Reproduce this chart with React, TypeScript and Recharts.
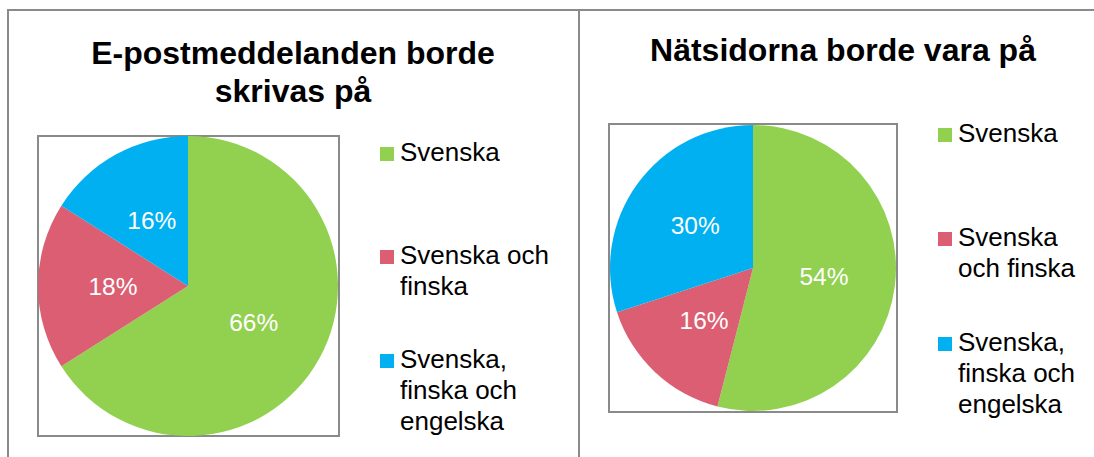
import React from 'react';
import { PieChart, Pie, Cell } from 'recharts';

const categories = ['Svenska', 'Svenska och finska', 'Svenska, finska och engelska'];
const colors = ['#92D050', '#DB5E72', '#00B0F0'];
const emailValues = [66, 18, 16];
const webValues = [54, 16, 30];
const titles = ['E-postmeddelanden borde skrivas på', 'Nätsidorna borde vara på'];

const FONT = '"Liberation Sans", Arial, Helvetica, sans-serif';
const RAD = Math.PI / 180;
const GRAY = '#8a8a8a';

const renderLabel = (p: any) => {
  const r = p.outerRadius * 0.5;
  const x = p.cx + r * Math.cos(-p.midAngle * RAD);
  const y = p.cy + r * Math.sin(-p.midAngle * RAD);
  return (
    <text
      x={x}
      y={y}
      fill="#ffffff"
      fontSize={24.5}
      fontFamily={FONT}
      textAnchor="middle"
      dominantBaseline="central"
    >
      {`${p.value}%`}
    </text>
  );
};

const panels = [
  {
    title: titles[0],
    values: emailValues,
    cx: 188, cy: 286, r: 150,
    box: { l: 37, t: 135, w: 303, h: 302 },
    titleCx: 293, titleTop: 35,
    legX: 380, legTextW: 170, legStart: 92.5, legSpacing: 119,
  },
  {
    title: titles[1],
    values: webValues,
    cx: 753, cy: 268, r: 143,
    box: { l: 608, t: 123, w: 290, h: 290 },
    titleCx: 843, titleTop: 32,
    legX: 938, legTextW: 134, legStart: 73, legSpacing: 120,
  },
];

export default function App() {
  return (
    <div
      style={{
        position: 'absolute',
        left: 0,
        top: 0,
        width: 1094,
        height: 457,
        background: '#ffffff',
        overflow: 'hidden',
        fontFamily: FONT,
      }}
    >
      {/* outer frame */}
      <div style={{ position: 'absolute', left: 7, top: 9, width: 1087, height: 2, background: GRAY }} />
      <div style={{ position: 'absolute', left: 7, top: 9, width: 2, height: 448, background: GRAY }} />
      <div style={{ position: 'absolute', left: 578, top: 9, width: 2, height: 448, background: GRAY }} />

      {/* plot boxes */}
      {panels.map((p, i) => (
        <div
          key={'box' + i}
          style={{
            position: 'absolute',
            left: p.box.l,
            top: p.box.t,
            width: p.box.w,
            height: p.box.h,
            border: `2px solid ${GRAY}`,
            boxSizing: 'border-box',
          }}
        />
      ))}

      <div style={{ position: 'absolute', left: 0, top: 0 }}>
        <PieChart width={1094} height={457} margin={{ top: 0, right: 0, bottom: 0, left: 0 }}>
          {panels.map((p, i) => (
            <Pie
              key={'pie' + i}
              data={categories.map((c, k) => ({ name: c, value: p.values[k] }))}
              dataKey="value"
              nameKey="name"
              cx={p.cx}
              cy={p.cy}
              outerRadius={p.r}
              startAngle={90}
              endAngle={-270}
              stroke="none"
              label={renderLabel}
              labelLine={false}
              isAnimationActive={false}
            >
              {categories.map((c, k) => (
                <Cell key={c} fill={colors[k]} />
              ))}
            </Pie>
          ))}
        </PieChart>
      </div>

      {/* titles */}
      {panels.map((p, i) => (
        <div
          key={'title' + i}
          style={{
            position: 'absolute',
            left: p.titleCx - 225,
            top: p.titleTop,
            width: 450,
            textAlign: 'center',
            fontSize: 32,
            lineHeight: '37.5px',
            fontWeight: 'bold',
            color: '#000',
          }}
        >
          {p.title}
        </div>
      ))}

      {/* legends */}
      {panels.map((p, i) =>
        categories.map((c, k) => (
          <div
            key={'leg' + i + '-' + k}
            style={{
              position: 'absolute',
              left: p.legX,
              top: p.legStart + k * p.legSpacing,
              height: p.legSpacing,
              display: 'flex',
              alignItems: 'center',
            }}
          >
            <div style={{ display: 'flex', alignItems: 'flex-start' }}>
              <div
                style={{
                  width: 14,
                  height: 14,
                  marginTop: 10,
                  marginRight: 6,
                  background: colors[k],
                  flex: 'none',
                }}
              />
              <div
                style={{
                  width: p.legTextW,
                  fontSize: 26,
                  lineHeight: '31px',
                  color: '#000',
                }}
              >
                {c}
              </div>
            </div>
          </div>
        ))
      )}
    </div>
  );
}
